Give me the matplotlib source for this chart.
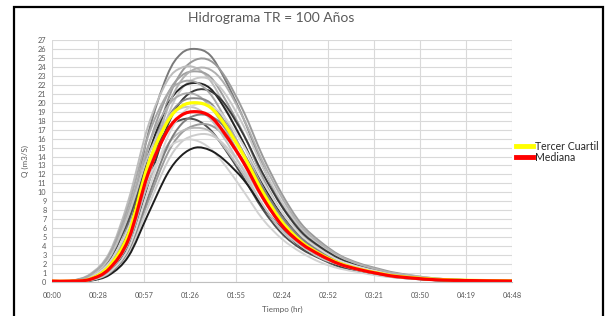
"""
Hidrograma TR = 100 años: familia de hidrogramas simulados,
con el tercer cuartil y la mediana resaltados.
Salida: out.png
"""

import matplotlib

matplotlib.use("Agg")
import matplotlib.pyplot as plt
from matplotlib.patches import PathPatch, Rectangle
from matplotlib.path import Path

# Tiempo (min) de cada ordenada
TIME_MIN = [0, 12, 24, 36, 48, 60, 72, 81, 90, 99, 108, 120, 132, 144,
            156, 168, 180, 192, 204, 216, 240, 264, 288]

# Caudales (m3/s)
MEDIANA = [0.1, 0.1, 0.3, 1.5, 4.8, 12.0, 16.8, 18.6, 19.0, 18.5, 16.6, 13.3,
           9.4, 6.3, 4.3, 3.0, 2.0, 1.4, 0.95, 0.6, 0.25, 0.15, 0.1]
TERCER_CUARTIL = [0.1, 0.1, 0.35, 1.8, 5.4, 13.0, 17.8, 19.6, 20.0, 19.5, 17.6,
                  14.1, 10.0, 6.7, 4.5, 3.1, 2.1, 1.45, 1.0, 0.65, 0.3, 0.18, 0.12]

Q_01 = [0.1, 0.1, 0.4, 2.1, 6.6, 16.4, 23.0, 25.5, 26.0, 25.3, 22.7, 18.2,
        12.9, 8.6, 5.9, 4.1, 2.7, 1.9, 1.3, 0.8, 0.3, 0.2, 0.1]
Q_02 = [0.1, 0.1, 0.3, 1.4, 4.8, 12.5, 20.0, 23.4, 24.8, 24.7, 23.0, 19.0,
        14.0, 9.8, 6.5, 4.5, 3.0, 2.1, 1.5, 1.0, 0.4, 0.2, 0.15]
Q_03 = [0.1, 0.15, 0.9, 3.3, 9.2, 17.3, 22.4, 23.9, 23.9, 22.5, 19.7, 15.3,
        10.6, 7.2, 4.9, 3.4, 2.3, 1.6, 1.1, 0.7, 0.3, 0.2, 0.1]
Q_04 = [0.1, 0.1, 0.4, 1.9, 5.9, 14.9, 20.8, 23.0, 23.5, 22.9, 20.5, 16.5,
        11.6, 7.8, 5.3, 3.7, 2.5, 1.7, 1.2, 0.8, 0.3, 0.2, 0.1]
Q_05 = [0.1, 0.1, 0.2, 1.3, 4.4, 11.5, 18.3, 21.5, 22.7, 22.6, 21.1, 17.4,
        12.8, 8.9, 6.0, 4.1, 2.8, 1.9, 1.3, 0.9, 0.4, 0.2, 0.15]
Q_06 = [0.1, 0.1, 0.4, 1.8, 5.6, 14.0, 19.6, 21.7, 22.2, 21.6, 19.4, 15.5,
        11.0, 7.4, 5.0, 3.5, 2.3, 1.6, 1.1, 0.7, 0.3, 0.2, 0.1]
Q_07 = [0.1, 0.1, 0.2, 1.2, 4.1, 10.8, 17.3, 20.2, 21.4, 21.3, 19.9, 16.4,
        12.1, 8.4, 5.6, 3.9, 2.6, 1.8, 1.3, 0.8, 0.35, 0.2, 0.13]
Q_08 = [0.1, 0.13, 0.8, 2.9, 8.0, 15.1, 19.5, 20.9, 20.9, 19.6, 17.2, 13.3,
        9.3, 6.3, 4.3, 3.0, 2.0, 1.4, 0.9, 0.6, 0.25, 0.15, 0.1]
Q_09 = [0.1, 0.1, 0.3, 1.6, 5.2, 13.0, 18.1, 20.1, 20.5, 20.0, 17.9, 14.4,
        10.2, 6.8, 4.6, 3.2, 2.2, 1.5, 1.0, 0.7, 0.3, 0.16, 0.1]
Q_10 = [0.1, 0.1, 0.7, 2.5, 7.0, 13.1, 17.0, 18.1, 18.1, 17.0, 14.9, 11.6,
        8.1, 5.4, 3.7, 2.6, 1.7, 1.2, 0.8, 0.5, 0.2, 0.13, 0.09]
Q_11 = [0.1, 0.1, 0.2, 1.0, 3.4, 8.9, 14.2, 16.6, 17.5, 17.5, 16.3, 13.5,
        9.9, 6.9, 4.6, 3.2, 2.1, 1.5, 1.0, 0.7, 0.3, 0.16, 0.1]
Q_12 = [0.1, 0.1, 0.3, 1.4, 4.4, 10.9, 15.2, 16.8, 17.2, 16.8, 15.0, 12.0,
        8.5, 5.7, 3.9, 2.7, 1.8, 1.3, 0.9, 0.55, 0.2, 0.14, 0.09]
Q_13 = [0.08, 0.08, 0.2, 0.9, 3.2, 8.3, 13.3, 15.6, 16.4, 16.4, 15.3, 12.6,
        9.3, 6.5, 4.3, 3.0, 2.0, 1.4, 1.0, 0.6, 0.3, 0.15, 0.1]
Q_14 = [0.08, 0.1, 0.6, 2.2, 6.1, 11.5, 14.8, 15.8, 15.8, 14.9, 13.1, 10.1,
        7.0, 4.8, 3.3, 2.2, 1.5, 1.1, 0.7, 0.5, 0.2, 0.1, 0.08]
Q_15 = [0.08, 0.08, 0.15, 0.8, 2.9, 7.5, 12.0, 14.1, 15.0, 14.7, 13.6, 11.4,
        8.4, 5.9, 3.9, 2.7, 1.8, 1.3, 0.9, 0.6, 0.2, 0.14, 0.09]
Q_16 = [0.1, 0.12, 0.7, 2.7, 7.5, 14.0, 18.2, 19.4, 19.4, 18.2, 16.0, 12.4,
        8.6, 5.8, 4.0, 2.7, 1.9, 1.3, 0.9, 0.6, 0.24, 0.14, 0.1]
Q_17 = [0.1, 0.1, 0.2, 1.0, 3.6, 9.4, 15.0, 17.6, 18.6, 18.5, 17.3, 14.3,
        10.5, 7.3, 4.9, 3.4, 2.3, 1.6, 1.1, 0.7, 0.3, 0.17, 0.11]
Q_18 = [0.1, 0.14, 0.8, 3.1, 8.6, 16.2, 20.9, 22.3, 22.3, 21.0, 18.4, 14.3,
        9.9, 6.7, 4.6, 3.2, 2.1, 1.5, 1.0, 0.7, 0.3, 0.16, 0.1]
Q_19 = [0.1, 0.1, 0.2, 1.1, 3.8, 10.0, 16.0, 18.7, 19.8, 19.7, 18.4, 15.2,
        11.2, 7.8, 5.2, 3.6, 2.4, 1.7, 1.2, 0.8, 0.3, 0.18, 0.12]
Q_20 = [0.12, 0.12, 0.24, 1.3, 4.6, 12.0, 19.2, 22.5, 23.8, 23.7, 22.1, 18.2,
        13.4, 9.4, 6.2, 4.3, 2.9, 2.0, 1.4, 0.9, 0.4, 0.2, 0.14]

SIMULACIONES = [Q_01, Q_02, Q_03, Q_04, Q_05, Q_06, Q_07, Q_08, Q_09, Q_10,
                Q_11, Q_12, Q_13, Q_14, Q_15, Q_16, Q_17, Q_18, Q_19, Q_20]
GRISES = ["#7a7a7a", "#9a9a9a", "#bdbdbd", "#a0a0a0", "#c8c8c8", "#262626",
          "#3a3a3a", "#acacac", "#8a8a8a", "#4d4d4d", "#9c9c9c", "#bababa",
          "#cccccc", "#d2d2d2", "#1e1e1e", "#c4c4c4", "#7e7e7e", "#a8a8a8",
          "#d6d6d6", "#b0b0b0"]

X_TICK_LABELS = ["00:00", "00:28", "00:57", "01:26", "01:55", "02:24",
                 "02:52", "03:21", "03:50", "04:19", "04:48"]

TEXT_COLOR = "#595959"
GRID_COLOR = "#d9d9d9"


def smooth_path(xs, ys):
    # Línea suavizada tipo Excel: Bézier cúbica que pasa por cada punto
    verts = [(xs[0], ys[0])]
    codes = [Path.MOVETO]
    n = len(xs)
    for i in range(n - 1):
        x0, y0 = (xs[i - 1], ys[i - 1]) if i > 0 else (xs[i], ys[i])
        x1, y1 = xs[i], ys[i]
        x2, y2 = xs[i + 1], ys[i + 1]
        x3, y3 = (xs[i + 2], ys[i + 2]) if i + 2 < n else (x2, y2)
        c1 = (x1 + (x2 - x0) / 6, y1 + (y2 - y0) / 6)
        c2 = (x2 - (x3 - x1) / 6, y2 - (y3 - y1) / 6)
        verts += [c1, c2, (x2, y2)]
        codes += [Path.CURVE4] * 3
    return Path(verts, codes)


def draw_series(ax, ys, color, lw, label=None):
    patch = PathPatch(smooth_path(TIME_MIN, ys), facecolor="none",
                      edgecolor=color, lw=lw, capstyle="round",
                      joinstyle="round", transform=ax.transData)
    ax.add_patch(patch)
    # proxy para la leyenda
    if label:
        ax.plot([], [], color=color, lw=lw, label=label)


plt.rcParams["font.family"] = ["Lato", "DejaVu Sans"]

fig = plt.figure(figsize=(6.08, 3.16), dpi=100)
ax = fig.add_axes([52 / 608, 1 - 282 / 316, 460 / 608, 242 / 316])

for serie, color in zip(SIMULACIONES, GRISES):
    draw_series(ax, serie, color, 1.4)

draw_series(ax, TERCER_CUARTIL, "#ffff00", 2.3, "Tercer Cuartil")
draw_series(ax, MEDIANA, "#ff0000", 2.3, "Mediana")

ax.set_xlim(0, 288)
ax.set_ylim(0, 27)
ax.set_xticks([i * 28.8 for i in range(len(X_TICK_LABELS))])
ax.set_xticklabels(X_TICK_LABELS)
ax.set_yticks(range(0, 28))
ax.tick_params(axis="both", length=0, labelsize=5.3, colors=TEXT_COLOR)
ax.tick_params(axis="x", pad=7)
ax.tick_params(axis="y", pad=4)
ax.grid(True, color=GRID_COLOR, lw=0.8)
ax.set_axisbelow(True)
for side in ("top", "right", "left"):
    ax.spines[side].set_visible(False)
ax.spines["bottom"].set_color("#bfbfbf")

ax.set_xlabel("Tiempo (hr)", fontsize=5.8, color=TEXT_COLOR, labelpad=5)
ax.set_ylabel("Q (m3/S)", fontsize=5.8, color=TEXT_COLOR, labelpad=6)
fig.text(271 / 608, 1 - 18 / 316, "Hidrograma TR = 100 Años", ha="center",
         va="center", fontsize=10, color=TEXT_COLOR)

leg = fig.legend(loc="center left", bbox_to_anchor=(516 / 608, 1 - 152 / 316),
                 frameon=False, fontsize=7.6, handlelength=1.6, handletextpad=0.2,
                 labelspacing=0.0, borderpad=0, borderaxespad=0)
for line in leg.get_lines():
    line.set_linewidth(3.5)
for text in leg.get_texts():
    text.set_color("#262626")

fig.patches.append(Rectangle((14 / 608, -0.05), 589 / 608, 1.05 - 7 / 316,
                             transform=fig.transFigure, fill=False,
                             edgecolor="black", lw=1.6))

fig.savefig("out.png", dpi=100)
